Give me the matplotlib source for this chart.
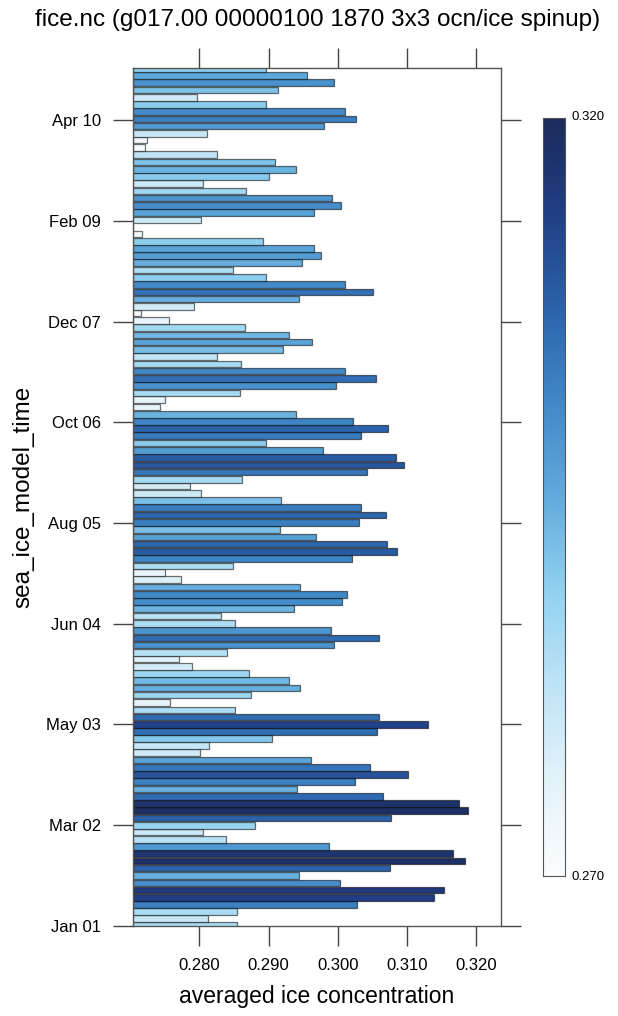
import numpy as np
import matplotlib
matplotlib.use("Agg")
import matplotlib.pyplot as plt
from matplotlib.colors import LinearSegmentedColormap, Normalize

plt.rcParams['font.family'] = ['Liberation Sans', 'DejaVu Sans']

# monthly averaged ice concentration, years 01..10, Jan..Dec
year01 = [0.2854, 0.2812, 0.2855, 0.3028, 0.3139, 0.3153, 0.3003, 0.2944, 0.3075, 0.3184, 0.3167, 0.2987]
year02 = [0.2838, 0.2806, 0.2880, 0.3077, 0.3188, 0.3175, 0.3065, 0.2941, 0.3025, 0.3101, 0.3046, 0.2962]
year03 = [0.2801, 0.2814, 0.2905, 0.3056, 0.3130, 0.3060, 0.2852, 0.2758, 0.2874, 0.2946, 0.2930, 0.2872]
year04 = [0.2790, 0.2770, 0.2840, 0.2994, 0.3060, 0.2990, 0.2852, 0.2831, 0.2937, 0.3006, 0.3013, 0.2945]
year05 = [0.2774, 0.2750, 0.2849, 0.3020, 0.3086, 0.3071, 0.2968, 0.2917, 0.3031, 0.3069, 0.3034, 0.2918]
year06 = [0.2803, 0.2787, 0.2862, 0.3042, 0.3096, 0.3084, 0.2979, 0.2896, 0.3034, 0.3073, 0.3022, 0.2939]
year07 = [0.2743, 0.2751, 0.2859, 0.2997, 0.3055, 0.3011, 0.2860, 0.2825, 0.2921, 0.2963, 0.2929, 0.2866]
year08 = [0.2756, 0.2716, 0.2793, 0.2944, 0.3051, 0.3010, 0.2897, 0.2848, 0.2948, 0.2976, 0.2965, 0.2892]
year09 = [0.2717, 0.2700, 0.2802, 0.2966, 0.3004, 0.2991, 0.2868, 0.2805, 0.2900, 0.2939, 0.2909, 0.2825]
year10 = [0.2722, 0.2724, 0.2811, 0.2980, 0.3027, 0.3010, 0.2896, 0.2796, 0.2913, 0.2995, 0.2956, 0.2897]

month_days = [31, 28, 31, 30, 31, 30, 31, 31, 30, 31, 30, 31]  # noleap calendar
tick_labels = ["Jan 01", "Mar 02", "May 03", "Jun 04", "Aug 05", "Oct 06", "Dec 07", "Feb 09", "Apr 10"]
tick_step_days = 425
x_ticks = [0.280, 0.290, 0.300, 0.310, 0.320]
x_tick_labels = ["0.280", "0.290", "0.300", "0.310", "0.320"]
cbar_min, cbar_max = 0.270, 0.320

values = np.array(year01 + year02 + year03 + year04 + year05 +
                  year06 + year07 + year08 + year09 + year10)
n_years = 10
month_start = np.concatenate([[0], np.cumsum(month_days)[:-1]])
days = np.array([y * 365 + m for y in range(n_years) for m in month_start])

cmap = LinearSegmentedColormap.from_list(
    "ice", ["#fbfdff", "#e4f3fa", "#bfe4f6", "#92d2f1", "#62abdd",
            "#4189c8", "#2b63aa", "#213f85", "#1c2b5b"])
norm = Normalize(cbar_min, cbar_max)

W, H = 618, 1016
fig = plt.figure(figsize=(W / 100, H / 100), dpi=100)
ax = fig.add_axes([133.3 / W, 1 - 925.7 / H, (501 - 133.3) / W, 857.4 / H])

xmin, xmax = 0.27047, 0.32357
colors = cmap(norm(values))
ax.barh(days, values - xmin, left=xmin, height=28, color=colors,
        edgecolor=(0, 0, 0, 0.55), linewidth=0.9, align='center')
ax.set_xlim(xmin, xmax)
ax.set_ylim(days[0], days[-1])

ax.set_xticks(x_ticks)
ax.set_xticklabels(x_tick_labels)
ax.set_yticks([k * tick_step_days for k in range(len(tick_labels))])
ax.set_yticklabels(tick_labels)
ax.tick_params(axis='both', direction='out', length=14.5, width=1.0, color='#444444',
               labelsize=12, top=True, right=True, labeltop=False, labelright=False)
ax.tick_params(axis='x', pad=9)
ax.tick_params(axis='y', pad=9)
for s in ax.spines.values():
    s.set_color('#555555')
    s.set_linewidth(1.0)

fig.text(317 / W, 1 - 996 / H, "averaged ice concentration", fontsize=16.5,
         ha='center', va='center')
fig.text(23 / W, 1 - 497 / H, "sea_ice_model_time", rotation=90, fontsize=17.5,
         ha='center', va='center')
fig.text(318 / W, 1 - 20 / H, "fice.nc (g017.00 00000100 1870 3x3 ocn/ice spinup)",
         fontsize=17.5, ha='center', va='center')

# colorkey
cax = fig.add_axes([542.7 / W, 1 - 876 / H, 22.5 / W, 758 / H])
grad = np.linspace(cbar_min, cbar_max, 256).reshape(-1, 1)
cax.imshow(grad, aspect='auto', cmap=cmap, norm=norm, origin='lower',
           extent=[0, 1, cbar_min, cbar_max])
cax.set_xticks([])
cax.set_yticks([])
for s in cax.spines.values():
    s.set_color('#555555')
    s.set_linewidth(0.8)
fig.text(571 / W, 1 - 117 / H, "%.3f" % cbar_max, fontsize=9.5, ha='left', va='center')
fig.text(571 / W, 1 - 877 / H, "%.3f" % cbar_min, fontsize=9.5, ha='left', va='center')

fig.savefig("out.png", dpi=100)
